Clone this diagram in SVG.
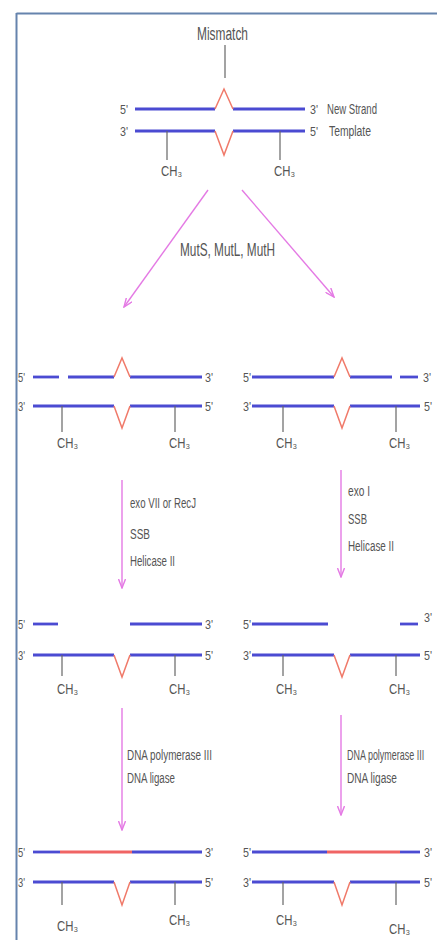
<svg xmlns="http://www.w3.org/2000/svg" width="437" height="940" viewBox="0 0 437 940">
<style>
.s{stroke:#4b4bd2;stroke-width:2.8;fill:none}
.m{stroke:#f07a6a;stroke-width:1.5;fill:none;stroke-linejoin:miter}
.r{stroke:#f06464;stroke-width:2.8;fill:none}
.t{stroke:#666;stroke-width:1.2}
.a{stroke:#e47ae4;stroke-width:1.4;fill:none;marker-end:url(#ah)}
text{font-family:"Liberation Sans","DejaVu Sans",Arial,sans-serif;fill:#555;font-size:14px}
.p{font-size:13px}
</style>
<defs>
<marker id="ah" viewBox="0 0 10 8" refX="9" refY="4" markerWidth="10" markerHeight="8" markerUnits="userSpaceOnUse" orient="auto">
<path d="M0,0.5 L9,4 L0,7.5" fill="none" stroke="#e47ae4" stroke-width="1.4"/>
</marker>
</defs>
<rect width="437" height="940" fill="#fff"/>
<g id="frame">
<line x1="16.5" y1="13.5" x2="437" y2="13.5" stroke="#6684ad" stroke-width="2"/>
<line x1="16.5" y1="13" x2="16.5" y2="940" stroke="#6684ad" stroke-width="2"/>
</g>

<g id="connectors">
<line x1="225" y1="45" x2="225" y2="78" stroke="#666" stroke-width="1.2"/>
<line class="a" x1="208" y1="190" x2="124" y2="307"/>
<line class="a" x1="242" y1="190" x2="334" y2="297"/>
<line class="a" x1="122" y1="480" x2="122" y2="588"/>
<line class="a" x1="341" y1="470" x2="341" y2="577"/>
<line class="a" x1="122" y1="708" x2="122" y2="830"/>
<line class="a" x1="341" y1="715" x2="341" y2="815"/>
</g>

<g id="labels">
<text x="197" y="40" textLength="51" lengthAdjust="spacingAndGlyphs" style="font-size:18px">Mismatch</text>
<text x="180" y="256" textLength="95" lengthAdjust="spacingAndGlyphs" style="font-size:18px">MutS, MutL, MutH</text>
<text x="130" y="508" textLength="66" lengthAdjust="spacingAndGlyphs">exo VII or RecJ</text>
<text x="130" y="539" textLength="20" lengthAdjust="spacingAndGlyphs">SSB</text>
<text x="130" y="566" textLength="45" lengthAdjust="spacingAndGlyphs">Helicase II</text>
<text x="348" y="496" textLength="22" lengthAdjust="spacingAndGlyphs">exo I</text>
<text x="348" y="524" textLength="19" lengthAdjust="spacingAndGlyphs">SSB</text>
<text x="348" y="551" textLength="46" lengthAdjust="spacingAndGlyphs">Helicase II</text>
<text x="127" y="760" textLength="85" lengthAdjust="spacingAndGlyphs">DNA polymerase III</text>
<text x="127" y="783" textLength="48" lengthAdjust="spacingAndGlyphs">DNA ligase</text>
<text transform="translate(347,760) scale(0.64,1)">DNA polymerase III</text>
<text x="347" y="783" textLength="50" lengthAdjust="spacingAndGlyphs">DNA ligase</text>
</g>

<g id="dna-original">
<line class="s" x1="135" y1="109" x2="215" y2="109"/>
<line class="s" x1="233" y1="109" x2="305" y2="109"/>
<polyline class="m" points="215,109 224,89 233,109"/>
<line class="s" x1="135" y1="131" x2="215" y2="131"/>
<line class="s" x1="233" y1="131" x2="305" y2="131"/>
<polyline class="m" points="215,131 224,155 233,131"/>
<line class="t" x1="167" y1="131" x2="167" y2="160"/>
<line class="t" x1="280" y1="131" x2="280" y2="160"/>
<text class="p" x="120" y="114" textLength="8" lengthAdjust="spacingAndGlyphs">5'</text>
<text class="p" x="310" y="114" textLength="8" lengthAdjust="spacingAndGlyphs">3'</text>
<text class="p" x="120" y="136" textLength="8" lengthAdjust="spacingAndGlyphs">3'</text>
<text class="p" x="310" y="136" textLength="8" lengthAdjust="spacingAndGlyphs">5'</text>
<text x="327" y="114" textLength="50" lengthAdjust="spacingAndGlyphs">New Strand</text>
<text x="329" y="136" textLength="42" lengthAdjust="spacingAndGlyphs">Template</text>
<text x="161" y="176" textLength="21" lengthAdjust="spacingAndGlyphs">CH₃</text>
<text x="274" y="176" textLength="21" lengthAdjust="spacingAndGlyphs">CH₃</text>
</g>

<g id="dna-nick-left">
<line class="s" x1="33" y1="377" x2="59" y2="377"/>
<line class="s" x1="68" y1="377" x2="114" y2="377"/>
<line class="s" x1="130" y1="377" x2="202" y2="377"/>
<polyline class="m" points="114,377 122,358 130,377"/>
<line class="s" x1="33" y1="406" x2="114" y2="406"/>
<line class="s" x1="130" y1="406" x2="202" y2="406"/>
<polyline class="m" points="114,406 122,428 130,406"/>
<line class="t" x1="62" y1="406" x2="62" y2="432"/>
<line class="t" x1="175" y1="406" x2="175" y2="432"/>
<text class="p" x="18" y="382" textLength="7" lengthAdjust="spacingAndGlyphs">5'</text>
<text class="p" x="205" y="382" textLength="8" lengthAdjust="spacingAndGlyphs">3'</text>
<text class="p" x="18" y="411" textLength="7" lengthAdjust="spacingAndGlyphs">3'</text>
<text class="p" x="205" y="411" textLength="8" lengthAdjust="spacingAndGlyphs">5'</text>
<text x="57" y="448" textLength="21" lengthAdjust="spacingAndGlyphs">CH₃</text>
<text x="169" y="448" textLength="21" lengthAdjust="spacingAndGlyphs">CH₃</text>
</g>

<g id="dna-nick-right">
<line class="s" x1="252" y1="377" x2="334" y2="377"/>
<line class="s" x1="350" y1="377" x2="392" y2="377"/>
<line class="s" x1="400" y1="377" x2="418" y2="377"/>
<polyline class="m" points="334,377 342,358 350,377"/>
<line class="s" x1="252" y1="406" x2="334" y2="406"/>
<line class="s" x1="350" y1="406" x2="420" y2="406"/>
<polyline class="m" points="334,406 342,428 350,406"/>
<line class="t" x1="283" y1="406" x2="283" y2="432"/>
<line class="t" x1="396" y1="406" x2="396" y2="432"/>
<text class="p" x="243" y="382" textLength="8" lengthAdjust="spacingAndGlyphs">5'</text>
<text class="p" x="423" y="382" textLength="8" lengthAdjust="spacingAndGlyphs">3'</text>
<text class="p" x="243" y="411" textLength="8" lengthAdjust="spacingAndGlyphs">3'</text>
<text class="p" x="424" y="411" textLength="8" lengthAdjust="spacingAndGlyphs">5'</text>
<text x="276" y="448" textLength="21" lengthAdjust="spacingAndGlyphs">CH₃</text>
<text x="389" y="448" textLength="21" lengthAdjust="spacingAndGlyphs">CH₃</text>
</g>

<g id="dna-excised-left">
<line class="s" x1="33" y1="624" x2="58" y2="624"/>
<line class="s" x1="130" y1="624" x2="202" y2="624"/>
<line class="s" x1="33" y1="655" x2="114" y2="655"/>
<line class="s" x1="130" y1="655" x2="202" y2="655"/>
<polyline class="m" points="114,655 122,677 130,655"/>
<line class="t" x1="62" y1="655" x2="62" y2="676"/>
<line class="t" x1="175" y1="655" x2="175" y2="676"/>
<text class="p" x="18" y="629" textLength="7" lengthAdjust="spacingAndGlyphs">5'</text>
<text class="p" x="205" y="629" textLength="8" lengthAdjust="spacingAndGlyphs">3'</text>
<text class="p" x="18" y="660" textLength="7" lengthAdjust="spacingAndGlyphs">3'</text>
<text class="p" x="205" y="660" textLength="8" lengthAdjust="spacingAndGlyphs">5'</text>
<text x="57" y="694" textLength="21" lengthAdjust="spacingAndGlyphs">CH₃</text>
<text x="169" y="694" textLength="21" lengthAdjust="spacingAndGlyphs">CH₃</text>
</g>

<g id="dna-excised-right">
<line class="s" x1="252" y1="624" x2="328" y2="624"/>
<line class="s" x1="400" y1="624" x2="418" y2="624"/>
<line class="s" x1="252" y1="655" x2="334" y2="655"/>
<line class="s" x1="350" y1="655" x2="420" y2="655"/>
<polyline class="m" points="334,655 342,677 350,655"/>
<line class="t" x1="283" y1="655" x2="283" y2="676"/>
<line class="t" x1="396" y1="655" x2="396" y2="676"/>
<text class="p" x="243" y="629" textLength="8" lengthAdjust="spacingAndGlyphs">5'</text>
<text class="p" x="424" y="622" textLength="8" lengthAdjust="spacingAndGlyphs">3'</text>
<text class="p" x="243" y="660" textLength="8" lengthAdjust="spacingAndGlyphs">3'</text>
<text class="p" x="424" y="660" textLength="8" lengthAdjust="spacingAndGlyphs">5'</text>
<text x="276" y="694" textLength="21" lengthAdjust="spacingAndGlyphs">CH₃</text>
<text x="389" y="694" textLength="21" lengthAdjust="spacingAndGlyphs">CH₃</text>
</g>

<g id="dna-repaired-left">
<line class="s" x1="33" y1="852" x2="60" y2="852"/>
<line class="r" x1="60" y1="852" x2="132" y2="852"/>
<line class="s" x1="132" y1="852" x2="202" y2="852"/>
<line class="s" x1="33" y1="882" x2="114" y2="882"/>
<line class="s" x1="130" y1="882" x2="202" y2="882"/>
<polyline class="m" points="114,882 122,905 130,882"/>
<line class="t" x1="62" y1="882" x2="62" y2="905"/>
<line class="t" x1="175" y1="882" x2="175" y2="905"/>
<text class="p" x="18" y="857" textLength="7" lengthAdjust="spacingAndGlyphs">5'</text>
<text class="p" x="205" y="857" textLength="8" lengthAdjust="spacingAndGlyphs">3'</text>
<text class="p" x="18" y="887" textLength="7" lengthAdjust="spacingAndGlyphs">3'</text>
<text class="p" x="205" y="887" textLength="8" lengthAdjust="spacingAndGlyphs">5'</text>
<text x="57" y="931" textLength="21" lengthAdjust="spacingAndGlyphs">CH₃</text>
<text x="169" y="925" textLength="21" lengthAdjust="spacingAndGlyphs">CH₃</text>
</g>

<g id="dna-repaired-right">
<line class="s" x1="252" y1="852" x2="327" y2="852"/>
<line class="r" x1="327" y1="852" x2="400" y2="852"/>
<line class="s" x1="400" y1="852" x2="420" y2="852"/>
<line class="s" x1="252" y1="882" x2="334" y2="882"/>
<line class="s" x1="350" y1="882" x2="420" y2="882"/>
<polyline class="m" points="334,882 342,905 350,882"/>
<line class="t" x1="283" y1="882" x2="283" y2="905"/>
<line class="t" x1="396" y1="882" x2="396" y2="905"/>
<text class="p" x="243" y="857" textLength="8" lengthAdjust="spacingAndGlyphs">5'</text>
<text class="p" x="424" y="857" textLength="8" lengthAdjust="spacingAndGlyphs">3'</text>
<text class="p" x="243" y="887" textLength="8" lengthAdjust="spacingAndGlyphs">3'</text>
<text class="p" x="424" y="887" textLength="8" lengthAdjust="spacingAndGlyphs">5'</text>
<text x="276" y="925" textLength="21" lengthAdjust="spacingAndGlyphs">CH₃</text>
<text x="389" y="934" textLength="21" lengthAdjust="spacingAndGlyphs">CH₃</text>
</g>
</svg>
